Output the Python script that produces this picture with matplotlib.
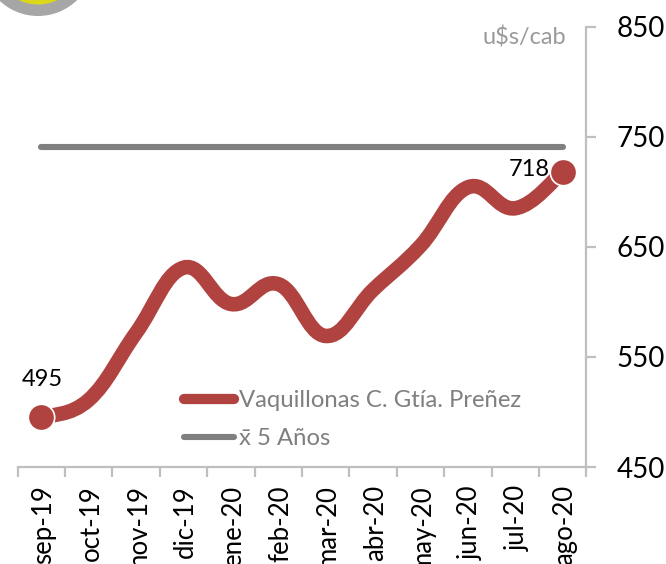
import numpy as np
import matplotlib
matplotlib.use("Agg")
import matplotlib.pyplot as plt
from matplotlib.path import Path
from matplotlib.patches import PathPatch, Circle
from matplotlib.lines import Line2D
from matplotlib.transforms import ScaledTranslation

plt.rcParams['font.family'] = ['Lato', 'DejaVu Sans']

months = ['sep-19', 'oct-19', 'nov-19', 'dic-19', 'ene-20', 'feb-20',
          'mar-20', 'abr-20', 'may-20', 'jun-20', 'jul-20', 'ago-20']
vaquillonas = [495, 511, 572, 631, 598, 616, 569, 611, 651, 704, 685, 718]
promedio = [741] * 12
y_ticks = [450, 550, 650, 750, 850]
name_a = 'Vaquillonas C. Gtía. Preñez'
name_b = 'x\u0304 5 Años'
unit = 'u$s/cab'

W, H = 666, 564
RED, GREY, AXIS, TXT = '#B04340', '#7F7F7F', '#BFBFBF', '#000000'


def smooth_path(x, y):
    """Spreadsheet-style smoothed line: Bezier segments through each data point."""
    p = np.column_stack([x, y]).astype(float)
    q = np.vstack([p[0], p, p[-1]])
    verts, codes = [p[0]], [Path.MOVETO]
    for i in range(1, len(q) - 2):
        verts += [q[i] + (q[i + 1] - q[i - 1]) / 5.0,
                  q[i + 1] - (q[i + 2] - q[i]) / 5.0,
                  q[i + 1]]
        codes += [Path.CURVE4] * 3
    return Path(verts, codes)


fig = plt.figure(figsize=(W / 100, H / 100), dpi=100, facecolor='white')

# decorative logo circle cut by the top edge (pixel coordinates)
bg = fig.add_axes([0, 0, 1, 1], zorder=0)
bg.set_xlim(0, W)
bg.set_ylim(H, 0)
bg.axis('off')
bg.add_patch(Circle((38, -40), 56, fc='#A6A6A6', ec='none'))
bg.add_patch(Circle((38, -40), 44.5, fc='#DDD71C', ec='none'))

left, right, top, bottom = 17.7, 586.5, 26.5, 467
ax = fig.add_axes([left / W, 1 - bottom / H, (right - left) / W, (bottom - top) / H], zorder=1)
ax.patch.set_alpha(0)
x = np.arange(len(months))
ax.set_xlim(-0.5, len(months) - 0.5)
ax.set_ylim(450, 850)

for s in ['top', 'left']:
    ax.spines[s].set_visible(False)
for s in ['right', 'bottom']:
    ax.spines[s].set_color(AXIS)
    ax.spines[s].set_linewidth(1.6)

ax.yaxis.tick_right()
ax.set_yticks(y_ticks)
ax.tick_params(axis='y', length=7.5, width=1.6, color=AXIS, labelsize=20, labelcolor=TXT, pad=14)
ax.set_xticks(x, months, rotation=90)
ax.set_xticks(np.arange(-0.5, len(months)), minor=True)
ax.tick_params(axis='x', which='major', length=0, labelsize=18.5, labelcolor=TXT, pad=13)
ax.tick_params(axis='x', which='minor', length=7.5, width=1.6, color=AXIS)
for lab in ax.get_xticklabels():
    lab.set_transform(lab.get_transform() + ScaledTranslation(1.5 / 72, 0, fig.dpi_scale_trans))

ax.plot(x, promedio, color=GREY, lw=4.4, solid_capstyle='round', zorder=2)
ax.add_patch(PathPatch(smooth_path(x, vaquillonas), fc='none', ec=RED, lw=10.5,
                       capstyle='butt', zorder=3))
ax.plot(x[[0, -1]], np.array(vaquillonas)[[0, -1]], ls='none', marker='o', ms=19,
        mfc=RED, mec='white', mew=1.2, zorder=4)

ax.annotate(str(vaquillonas[0]), (x[0], vaquillonas[0]), xytext=(1, 20), textcoords='offset points',
            ha='center', va='bottom', fontsize=17, color=TXT, zorder=5)
ax.annotate(str(vaquillonas[-1]), (x[-1], vaquillonas[-1]), xytext=(-24, 2), textcoords='offset points',
            ha='center', va='center', fontsize=17, color=TXT, zorder=5)
ax.text(0.965, 0.976, unit, transform=ax.transAxes, ha='right', va='center', fontsize=17, color='#9A9A9A')

handles = [Line2D([], [], color=RED, lw=7.4, solid_capstyle='round'),
           Line2D([], [], color=GREY, lw=4.4, solid_capstyle='round')]
ax.legend(handles, [name_a, name_b], loc='lower left', bbox_to_anchor=(166 / (right - left), 0.041),
          frameon=False, fontsize=17.2, labelcolor=GREY, handlelength=2.1, handletextpad=0.22,
          labelspacing=0.7, borderpad=0, borderaxespad=0)

fig.savefig('out.png', dpi=100)
